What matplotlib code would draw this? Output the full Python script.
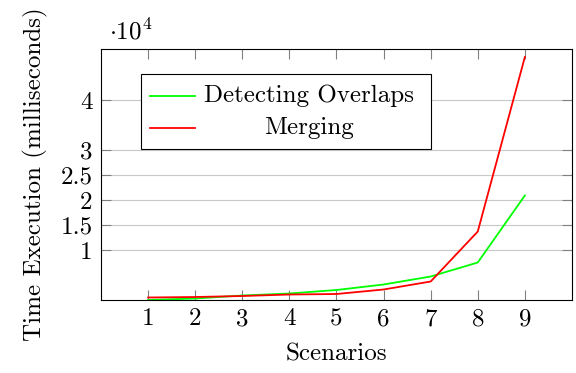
import matplotlib.pyplot as plt
from matplotlib.patches import Rectangle
from matplotlib.lines import Line2D

# dados (em milissegundos)
scenarios = [1, 2, 3, 4, 5, 6, 7, 8, 9]
detecting_overlaps = [0, 300, 900, 1300, 2000, 3100, 4700, 7500, 20900]
merging = [500, 600, 800, 1100, 1200, 2100, 3700, 13700, 48600]
ytick_vals = [10000, 15000, 20000, 25000, 30000, 40000]
ytick_labels = ['1', '1.5', '2', '2.5', '3', '4']

plt.rcParams['font.family'] = 'serif'
plt.rcParams['font.serif'] = ['cmr10', 'DejaVu Serif']
plt.rcParams['mathtext.fontset'] = 'cm'
plt.rcParams['axes.unicode_minus'] = False

fs = 18

fig = plt.figure(figsize=(5.76, 3.73), dpi=100)
ax = fig.add_axes([0.1753, 0.1957, 0.8177, 0.6729])

ax.plot(scenarios, detecting_overlaps, color='#00ff00', lw=1.3)
ax.plot(scenarios, merging, color='red', lw=1.3)

ax.set_xlim(0, 10)
ax.set_ylim(0, 50200)
ax.set_xticks(scenarios)
ax.set_yticks(ytick_vals)
ax.set_yticklabels(ytick_labels)
ax.tick_params(direction='in', length=7, width=0.8, color='#808080',
               labelsize=fs, top=True, right=True, pad=6)
ax.grid(axis='y', color='#c8c8c8', lw=0.8)
ax.set_axisbelow(True)
for s in ax.spines.values():
    s.set_linewidth(0.8)

ax.set_xlabel('Scenarios', fontsize=fs, labelpad=9)
ax.set_ylabel('Time Execution (milliseconds)', fontsize=fs, labelpad=9)
ax.text(0.018, 1.07, r'$\cdot 10^4$', transform=ax.transAxes, fontsize=fs,
        va='center', ha='left')

# legenda desenhada a mao para centralizar os textos
ax.add_patch(Rectangle((0.085, 0.60), 0.615, 0.30, transform=ax.transAxes,
                       facecolor='white', edgecolor='black', lw=0.8, zorder=5))
ax.add_line(Line2D([0.104, 0.199], [0.813, 0.813], transform=ax.transAxes,
                   color='#00ff00', lw=1.3, zorder=6))
ax.add_line(Line2D([0.104, 0.199], [0.687, 0.687], transform=ax.transAxes,
                   color='red', lw=1.3, zorder=6))
ax.text(0.442, 0.813, 'Detecting Overlaps', transform=ax.transAxes,
        fontsize=fs, ha='center', va='center', zorder=7)
ax.text(0.442, 0.687, 'Merging', transform=ax.transAxes,
        fontsize=fs, ha='center', va='center', zorder=7)

fig.savefig('out.png', dpi=100)
